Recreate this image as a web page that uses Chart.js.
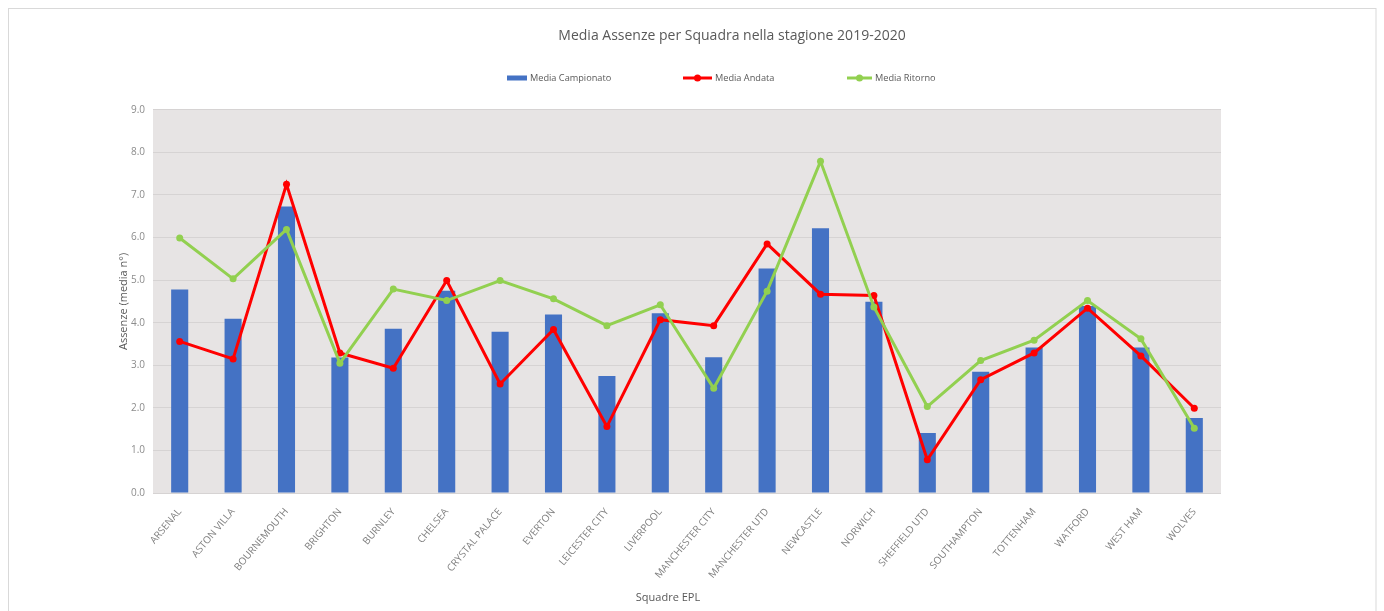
<!DOCTYPE html>
<html>
<head>
<meta charset="utf-8">
<script src="https://cdn.jsdelivr.net/npm/chart.js@4.4.1/dist/chart.umd.min.js"></script>
<style>
  html, body { margin: 0; padding: 0; background: #ffffff; }
  #wrap { width: 1384px; height: 611px; }
</style>
</head>
<body>
<div id="wrap"><canvas id="c" width="1384" height="611"></canvas></div>
<script>
const teams = ['ARSENAL','ASTON VILLA','BOURNEMOUTH','BRIGHTON','BURNLEY','CHELSEA','CRYSTAL PALACE','EVERTON','LEICESTER CITY','LIVERPOOL','MANCHESTER CITY','MANCHESTER UTD','NEWCASTLE','NORWICH','SHEFFIELD UTD','SOUTHAMPTON','TOTTENHAM','WATFORD','WEST HAM','WOLVES'];
const mediaCampionato = [4.78,4.09,6.73,3.18,3.86,4.75,3.79,4.19,2.75,4.22,3.19,5.27,6.22,4.49,1.41,2.85,3.42,4.39,3.42,1.76];
const mediaAndata = [3.56,3.15,7.25,3.29,2.93,4.99,2.56,3.84,1.56,4.07,3.93,5.85,4.67,4.64,0.78,2.66,3.29,4.34,3.22,1.99];
const mediaRitorno = [5.99,5.03,6.19,3.05,4.79,4.52,4.99,4.56,3.93,4.42,2.46,4.74,7.79,4.37,2.03,3.11,3.59,4.52,3.62,1.52];
const seriesNames = ['Media Campionato','Media Andata','Media Ritorno'];
const chartTitle = 'Media Assenze per Squadra nella stagione 2019-2020';
const xTitle = 'Squadre EPL';
const yTitle = 'Assenze (media n°)';

const FONT = '"Open Sans", sans-serif';
const BLUE = '#4472C4', RED = '#FF0000', GREEN = '#92D050';

const decor = {
  id: 'decor',
  beforeDraw(chart) {
    const ctx = chart.ctx, a = chart.chartArea;
    ctx.save();
    ctx.fillStyle = '#ffffff';
    ctx.fillRect(0, 0, chart.width, chart.height);
    ctx.strokeStyle = '#d9d9d9';
    ctx.lineWidth = 1;
    ctx.strokeRect(8.5, 8.5, 1376 - 8.5, 700);
    ctx.fillStyle = '#e7e4e4';
    ctx.fillRect(a.left, a.top, a.right - a.left, a.bottom - a.top);
    ctx.restore();
  },
  afterDraw(chart) {
    const ctx = chart.ctx;
    ctx.save();
    // legend
    ctx.font = '9.2px ' + FONT;
    ctx.textBaseline = 'middle';
    ctx.textAlign = 'left';
    const y = 78;
    const starts = [507, 683, 847];
    const symWs = [20, 29, 25];
    chart.data.datasets.forEach((d, i) => {
      const color = d.type === 'line' ? d.borderColor : d.backgroundColor;
      let x = starts[i];
      const w = symWs[i];
      if (d.type === 'line') {
        ctx.strokeStyle = color;
        ctx.lineWidth = 3;
        ctx.beginPath();
        ctx.moveTo(x, y);
        ctx.lineTo(x + w, y);
        ctx.stroke();
        ctx.fillStyle = color;
        ctx.beginPath();
        ctx.arc(x + w / 2, y, 3.5, 0, Math.PI * 2);
        ctx.fill();
      } else {
        ctx.fillStyle = color;
        ctx.fillRect(x, y - 2.5, w, 5);
      }
      ctx.fillStyle = '#595959';
      ctx.fillText(d.label, x + w + 3, y);
    });
    // x axis title
    ctx.font = '11px ' + FONT;
    ctx.textAlign = 'center';
    ctx.fillStyle = '#595959';
    ctx.fillText(xTitle, 668, 598);
    ctx.restore();
  }
};

new Chart(document.getElementById('c'), {
  type: 'bar',
  data: {
    labels: teams,
    datasets: [
      { type: 'bar', label: seriesNames[0], data: mediaCampionato, backgroundColor: BLUE,
        barPercentage: 0.32, categoryPercentage: 1, order: 3, yAxisID: 'y' },
      { type: 'line', label: seriesNames[1], data: mediaAndata, borderColor: RED, backgroundColor: RED,
        borderWidth: 3, pointRadius: 3.5, pointBorderWidth: 0, pointBackgroundColor: RED,
        tension: 0, order: 2, yAxisID: 'y' },
      { type: 'line', label: seriesNames[2], data: mediaRitorno, borderColor: GREEN, backgroundColor: GREEN,
        borderWidth: 3, pointRadius: 3.5, pointBorderWidth: 0, pointBackgroundColor: GREEN,
        tension: 0, order: 1, yAxisID: 'y' }
    ]
  },
  options: {
    responsive: false,
    animation: false,
    devicePixelRatio: 1,
    layout: { padding: { left: 80, right: 0, top: 9, bottom: 0 } },
    plugins: {
      legend: { display: false },
      tooltip: { enabled: false },
      title: {
        display: true, text: chartTitle, color: '#595959',
        font: { family: FONT, size: 14, weight: 'normal' },
        padding: { top: 19, bottom: 65 }
      }
    },
    scales: {
      x: {
        grid: { display: false },
        border: { display: false },
        ticks: { autoSkip: false, maxRotation: 50, minRotation: 50, color: '#7f7f7f',
                 font: { family: FONT, size: 10 }, padding: 5 },
        title: { display: false },
        afterFit(s) { s.height = 118; }
      },
      y: {
        type: 'linear', position: 'left', min: 0, max: 9,
        ticks: { stepSize: 1, callback: v => Number(v).toFixed(1), color: '#8c8c8c',
                 font: { family: FONT, size: 10 }, padding: 8 },
        grid: { color: '#d6d3d3', drawTicks: false, lineWidth: 1 },
        border: { display: false },
        title: { display: true, text: yTitle, color: '#595959',
                 font: { family: FONT, size: 11 }, padding: { top: 37, bottom: 0 } },
        afterFit(s) { s.width = 73; }
      },
      y2: {
        type: 'linear', position: 'right', display: true,
        grid: { display: false }, border: { display: false },
        ticks: { display: false },
        afterFit(s) { s.width = 163; }
      }
    }
  },
  plugins: [decor]
});
</script>
</body>
</html>
